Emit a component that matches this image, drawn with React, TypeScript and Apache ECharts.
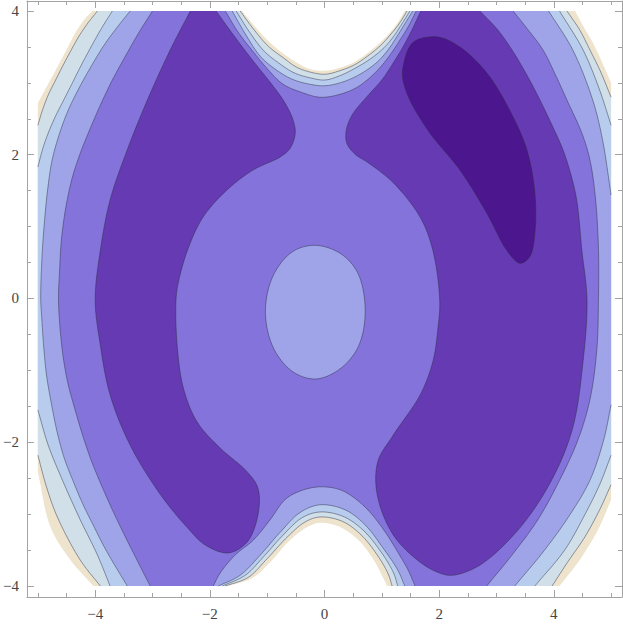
import React, { useEffect, useRef } from "react";
import * as echarts from "echarts";

type Pt = [number, number];

// ---- axes ----
const X_RANGE: [number, number] = [-5.19, 5.19];
const Y_RANGE: [number, number] = [-4.153, 4.139];
const X_TICKS_MINOR = [-5, -4.5, -4, -3.5, -3, -2.5, -2, -1.5, -1, -0.5, 0, 0.5, 1, 1.5, 2, 2.5, 3, 3.5, 4, 4.5, 5];
const X_TICKS_MAJOR = [-4, -2, 0, 2, 4];
const Y_TICKS_MINOR = [-4, -3.5, -3, -2.5, -2, -1.5, -1, -0.5, 0, 0.5, 1, 1.5, 2, 2.5, 3, 3.5, 4];
const Y_TICKS_MAJOR = [-4, -2, 0, 2, 4];

// ---- contour bands (outer → inner) ----
const BAND_COLORS = ["#EEE3CC", "#D1DFE8", "#B8CDEE", "#9FA4E8", "#8473DA", "#653AB2", "#4C168E"];

// edge of the plotted range (beige band)
const CONTOUR_1: Pt[] = [
  [-5, 2.72], [-4.83, 2.97], [-4.66, 3.22], [-4.5, 3.46], [-4.35, 3.69], [-4.19, 3.88], [-4.05, 4],
  [-1.44, 4], [-1.21, 3.78], [-0.95, 3.56], [-0.69, 3.39], [-0.48, 3.28], [-0.25, 3.19], [0.01, 3.17], [0.27, 3.21],
  [0.5, 3.28], [0.76, 3.42], [0.97, 3.56], [1.13, 3.69], [1.27, 3.83], [1.4, 4],
  [4.37, 4], [4.52, 3.78], [4.68, 3.56], [4.84, 3.29], [5, 3.0],
  [5, -2.8], [4.77, -3.22], [4.45, -3.64], [4.1, -4],
  [1.09, -4], [1.02, -3.88], [0.86, -3.64], [0.59, -3.36], [0.27, -3.18], [-0.08, -3.12], [-0.3, -3.18],
  [-0.6, -3.36], [-0.95, -3.67], [-1.26, -3.89], [-1.68, -4],
  [-4.03, -4], [-4.43, -3.64], [-4.78, -3.18], [-5, -2.41],
];

const CONTOUR_2: Pt[] = [
  [-5, 2.41], [-4.92, 2.62], [-4.82, 2.83], [-4.69, 3.04], [-4.57, 3.23], [-4.43, 3.44], [-4.29, 3.64], [-4.13, 3.83], [-3.96, 4],
  [-1.47, 4], [-1.24, 3.75], [-0.98, 3.51], [-0.72, 3.35], [-0.49, 3.22], [-0.25, 3.15], [0.01, 3.12], [0.27, 3.17],
  [0.52, 3.25], [0.78, 3.39], [0.99, 3.53], [1.16, 3.68], [1.3, 3.82], [1.44, 4],
  [4.23, 4], [4.45, 3.74], [4.63, 3.46], [4.82, 3.15], [5, 2.8],
  [5, -2.59], [4.8, -2.94], [4.54, -3.32], [4.24, -3.67], [3.97, -4],
  [1.18, -4], [1.11, -3.83], [0.93, -3.58], [0.64, -3.29], [0.31, -3.1], [-0.08, -3.04], [-0.34, -3.11],
  [-0.65, -3.32], [-1.0, -3.62], [-1.33, -3.88], [-1.73, -4],
  [-3.91, -4], [-4.26, -3.64], [-4.66, -3.04], [-4.85, -2.62], [-5, -2.18],
];

const CONTOUR_3: Pt[] = [
  [-5, 1.83], [-4.92, 2.07], [-4.82, 2.3], [-4.69, 2.54], [-4.55, 2.76], [-4.41, 2.98], [-4.26, 3.22], [-4.1, 3.46],
  [-3.94, 3.69], [-3.82, 3.85], [-3.7, 4],
  [-1.54, 4], [-1.31, 3.71], [-1.05, 3.44], [-0.77, 3.26], [-0.53, 3.14], [-0.25, 3.07], [0.01, 3.04], [0.27, 3.1],
  [0.55, 3.21], [0.83, 3.35], [1.04, 3.49], [1.2, 3.64], [1.35, 3.82], [1.49, 4],
  [4.1, 4], [4.51, 3.46], [4.8, 2.9], [5, 2.41],
  [5, -2.18], [4.8, -2.59], [4.54, -3.01], [4.19, -3.5], [3.67, -4],
  [1.28, -4], [1.2, -3.81], [0.99, -3.53], [0.67, -3.22], [0.32, -3.03], [-0.08, -2.97], [-0.39, -3.05],
  [-0.72, -3.29], [-1.07, -3.6], [-1.38, -3.85], [-1.78, -4],
  [-3.74, -4], [-3.96, -3.57], [-4.26, -3.08], [-4.57, -2.53], [-4.82, -2.04], [-5, -1.55],
];

const CONTOUR_4: Pt[] = [
  [-4.95, 0], [-4.93, 0.54], [-4.89, 1.02], [-4.83, 1.51], [-4.75, 1.93], [-4.62, 2.3], [-4.47, 2.62], [-4.28, 2.93],
  [-4.07, 3.23], [-3.84, 3.53], [-3.61, 3.78], [-3.39, 4],
  [-1.61, 4], [-1.38, 3.68], [-1.12, 3.37], [-0.84, 3.18], [-0.56, 3.05], [-0.25, 2.98], [0.01, 2.96], [0.31, 3.01],
  [0.62, 3.12], [0.92, 3.29], [1.11, 3.46], [1.26, 3.64], [1.4, 3.82], [1.54, 4],
  [3.91, 4], [4.33, 3.46], [4.68, 2.76], [4.85, 2.21], [5, 1.44],
  [5, -1.48], [4.87, -1.97], [4.63, -2.53], [4.28, -3.01], [3.84, -3.5], [3.32, -4],
  [1.4, -4], [1.28, -3.78], [1.02, -3.47], [0.71, -3.15], [0.36, -2.94], [-0.08, -2.87], [-0.43, -2.98],
  [-0.77, -3.25], [-1.12, -3.57], [-1.47, -3.85], [-1.85, -4],
  [-3.44, -4], [-3.63, -3.75], [-3.84, -3.46], [-4.03, -3.16], [-4.21, -2.87], [-4.38, -2.55], [-4.54, -2.22],
  [-4.66, -1.87], [-4.76, -1.48], [-4.85, -1.06], [-4.9, -0.65], [-4.93, -0.3],
];

const CONTOUR_5: Pt[] = [
  [-4.64, 0], [-4.62, 0.4], [-4.59, 0.81], [-4.52, 1.23], [-4.41, 1.65], [-4.27, 2.0], [-4.1, 2.34], [-3.91, 2.69],
  [-3.7, 3.04], [-3.46, 3.39], [-3.23, 3.71], [-3.0, 4],
  [-1.73, 4], [-1.51, 3.71], [-1.24, 3.43], [-0.98, 3.18], [-0.72, 2.98], [-0.37, 2.86], [-0.08, 2.8], [0.22, 2.83],
  [0.55, 2.93], [0.83, 3.1], [1.02, 3.26], [1.18, 3.43], [1.32, 3.6], [1.46, 3.78], [1.6, 4],
  [3.29, 4], [3.55, 3.74], [3.81, 3.46], [4.03, 3.11], [4.23, 2.76], [4.49, 2.3], [4.63, 1.93], [4.73, 1.37],
  [4.78, 0.67], [4.78, 0], [4.75, -0.72], [4.63, -1.41], [4.42, -1.97], [4.1, -2.53], [3.72, -3.08], [3.27, -3.57], [2.83, -4],
  [1.58, -4], [1.46, -3.78], [1.28, -3.53], [1.06, -3.25], [0.79, -2.97], [0.53, -2.78], [0.27, -2.66], [-0.08, -2.62],
  [-0.43, -2.68], [-0.69, -2.8], [-0.95, -3.08], [-1.24, -3.36], [-1.56, -3.57], [-1.82, -3.82], [-1.94, -4],
  [-3.04, -4], [-3.27, -3.64], [-3.49, -3.29], [-3.7, -2.94], [-3.89, -2.6], [-4.07, -2.25], [-4.22, -1.9],
  [-4.35, -1.55], [-4.47, -1.2], [-4.55, -0.86], [-4.61, -0.44],
];

const LEFT_CORE: Pt[] = [
  [-2.34, 4], [-1.89, 4], [-1.61, 3.69], [-1.26, 3.32], [-0.91, 2.97], [-0.72, 2.76], [-0.56, 2.51], [-0.51, 2.3],
  [-0.6, 2.09], [-0.77, 1.97], [-1.24, 1.79], [-1.7, 1.51], [-2.12, 1.13], [-2.39, 0.67], [-2.55, 0.22], [-2.59, -0.02],
  [-2.57, -0.65], [-2.46, -1.25], [-2.22, -1.72], [-1.82, -2.08], [-1.35, -2.41], [-1.16, -2.64], [-1.16, -3.01],
  [-1.35, -3.39], [-1.68, -3.54], [-2.08, -3.43], [-2.39, -3.19], [-2.86, -2.73], [-3.39, -2.04], [-3.74, -1.34],
  [-3.91, -0.65], [-4.0, -0.02], [-3.91, 0.67], [-3.74, 1.37], [-3.44, 2.07], [-3.09, 2.76], [-2.69, 3.46],
];

const RIGHT_CORE: Pt[] = [
  [1.68, 4], [2.71, 4], [3.02, 3.74], [3.27, 3.46], [3.53, 3.11], [3.76, 2.76], [3.97, 2.41], [4.16, 2.07], [4.3, 1.72],
  [4.4, 1.37], [4.49, 0.67], [4.58, -0.02], [4.51, -0.88], [4.33, -1.8], [3.98, -2.5], [3.41, -3.19], [2.71, -3.71],
  [2.24, -3.85], [2.01, -3.82], [1.67, -3.67], [1.2, -3.29], [0.92, -2.73], [0.93, -2.27], [1.2, -1.9], [1.67, -1.34],
  [1.89, -0.88], [1.98, -0.41], [2.01, -0.02], [1.89, 0.67], [1.67, 1.13], [1.2, 1.61], [0.76, 1.89], [0.53, 2.01],
  [0.39, 2.16], [0.38, 2.34], [0.48, 2.55], [0.72, 2.79], [1.0, 3.04], [1.21, 3.29], [1.39, 3.53], [1.54, 3.76],
];

const DEEPEST: Pt[] = [
  [1.37, 3.22], [1.54, 3.56], [1.96, 3.64], [2.36, 3.5], [2.83, 3.14], [3.23, 2.62], [3.53, 2.07], [3.67, 1.47],
  [3.67, 0.91], [3.58, 0.58], [3.41, 0.49], [3.18, 0.67], [2.83, 1.19], [2.36, 1.79], [1.84, 2.3], [1.49, 2.76], [1.37, 3.04],
];

const CENTER: Pt[] = [
  [-0.16, 0.74], [0.29, 0.62], [0.59, 0.34], [0.71, -0.19], [0.59, -0.67], [0.27, -0.98], [-0.15, -1.12],
  [-0.55, -1.02], [-0.89, -0.69], [-1.03, -0.19], [-0.9, 0.31], [-0.56, 0.65],
];

const LAYERS = [
  { points: CONTOUR_1, color: BAND_COLORS[0], line: false },
  { points: CONTOUR_2, color: BAND_COLORS[1], line: true },
  { points: CONTOUR_3, color: BAND_COLORS[2], line: true },
  { points: CONTOUR_4, color: BAND_COLORS[3], line: true },
  { points: CONTOUR_5, color: BAND_COLORS[4], line: true },
  { points: LEFT_CORE, color: BAND_COLORS[5], line: true },
  { points: RIGHT_CORE, color: BAND_COLORS[5], line: true },
  { points: DEEPEST, color: BAND_COLORS[6], line: true },
  { points: CENTER, color: BAND_COLORS[3], line: true },
];

const LINE_COLOR = "rgba(45,45,70,0.6)";
const FRAME_COLOR = "#a3a3a3";
const EPS = 1e-6;

function edgeTags(p: Pt): string {
  let s = "";
  if (p[0] <= -5 + EPS) s += "L";
  if (p[0] >= 5 - EPS) s += "R";
  if (p[1] >= 4 - EPS) s += "T";
  if (p[1] <= -4 + EPS) s += "B";
  return s;
}
function sharesEdge(a: Pt, b: Pt): boolean {
  const ea = edgeTags(a);
  const eb = edgeTags(b);
  for (const c of ea) if (eb.indexOf(c) >= 0) return true;
  return false;
}

// centripetal Catmull-Rom between p1 and p2 (rendering smoothness only)
function ccr(p0: number[], p1: number[], p2: number[], p3: number[], u: number): number[] {
  const d = (a: number[], b: number[]) => Math.max(Math.sqrt(Math.hypot(b[0] - a[0], b[1] - a[1])), 1e-4);
  const t0 = 0;
  const t1 = t0 + d(p0, p1);
  const t2 = t1 + d(p1, p2);
  const t3 = t2 + d(p2, p3);
  const t = t1 + (t2 - t1) * u;
  const lerp = (a: number[], b: number[], ta: number, tb: number) => {
    const w = (t - ta) / (tb - ta);
    return [a[0] * (1 - w) + b[0] * w, a[1] * (1 - w) + b[1] * w];
  };
  const A1 = lerp(p0, p1, t0, t1);
  const A2 = lerp(p1, p2, t1, t2);
  const A3 = lerp(p2, p3, t2, t3);
  const B1 = lerp(A1, A2, t0, t2);
  const B2 = lerp(A2, A3, t1, t3);
  return lerp(B1, B2, t1, t2);
}

const renderItem = (params: any, api: any) => {
  const layer = LAYERS[params.dataIndex];
  const data = layer.points;
  const n = data.length;
  const px: number[][] = data.map((p) => api.coord(p));
  const isEdge = data.map((p, i) => sharesEdge(p, data[(i + 1) % n]));
  const STEPS = 10;
  const segPts = (i: number): number[][] => {
    const j = (i + 1) % n;
    if (isEdge[i]) return [px[j]];
    const p1 = px[i], p2 = px[j];
    const p0 = isEdge[(i - 1 + n) % n] ? [2 * p1[0] - p2[0], 2 * p1[1] - p2[1]] : px[(i - 1 + n) % n];
    const p3 = isEdge[j] ? [2 * p2[0] - p1[0], 2 * p2[1] - p1[1]] : px[(j + 1) % n];
    const out: number[][] = [];
    for (let s = 1; s <= STEPS; s++) out.push(ccr(p0, p1, p2, p3, s / STEPS));
    return out;
  };
  const fill: number[][] = [px[0]];
  for (let i = 0; i < n; i++) fill.push(...segPts(i));
  fill.pop();
  const children: any[] = [
    { type: "polygon", shape: { points: fill }, style: { fill: layer.color, stroke: null } },
  ];
  if (layer.line) {
    const lineStyle = { stroke: LINE_COLOR, lineWidth: 0.8, fill: null };
    const start = isEdge.indexOf(true);
    if (start < 0) {
      children.push({ type: "polyline", shape: { points: [...fill, fill[0]] }, style: lineStyle });
    } else {
      let run: number[][] | null = null;
      for (let k = 1; k <= n; k++) {
        const i = (start + k) % n;
        if (isEdge[i]) {
          if (run) children.push({ type: "polyline", shape: { points: run }, style: lineStyle });
          run = null;
          continue;
        }
        if (!run) run = [px[i]];
        run.push(...segPts(i));
      }
      if (run) children.push({ type: "polyline", shape: { points: run }, style: lineStyle });
    }
  }
  return { type: "group", children };
};

const fmt = (v: number) => (v < 0 ? "\u2212" + Math.abs(v) : String(v));
const labelStyle = { fontFamily: "Liberation Serif, DejaVu Serif, serif", fontSize: 15, color: "#444" };
const tickLine = { color: FRAME_COLOR, width: 1 };

function axisPair(kind: "x" | "y", position: string, range: [number, number], minor: number[], major: number[], labels: boolean) {
  return [
    {
      type: "value",
      position,
      min: range[0],
      max: range[1],
      axisLine: { show: true, onZero: false, lineStyle: { color: FRAME_COLOR, width: 1 } },
      axisTick: { show: true, inside: true, length: 4, customValues: minor, lineStyle: tickLine },
      axisLabel: labels
        ? { show: true, customValues: major, formatter: fmt, margin: kind === "x" ? 9 : 8, ...labelStyle }
        : { show: false },
      splitLine: { show: false },
    },
    {
      type: "value",
      position,
      min: range[0],
      max: range[1],
      axisLine: { show: false, onZero: false },
      axisTick: { show: true, inside: true, length: 7, customValues: major, lineStyle: tickLine },
      axisLabel: { show: false },
      splitLine: { show: false },
    },
  ];
}

export default function App() {
  const ref = useRef<HTMLDivElement>(null);
  useEffect(() => {
    document.body.style.margin = "0";
    const chart = echarts.init(ref.current!, null, { renderer: "svg" });
    chart.setOption({
      animation: false,
      backgroundColor: "#ffffff",
      grid: { left: 26, right: 1, top: 1, bottom: 28, containLabel: false },
      xAxis: [
        ...axisPair("x", "bottom", X_RANGE, X_TICKS_MINOR, X_TICKS_MAJOR, true),
        ...axisPair("x", "top", X_RANGE, X_TICKS_MINOR, X_TICKS_MAJOR, false),
      ],
      yAxis: [
        ...axisPair("y", "left", Y_RANGE, Y_TICKS_MINOR, Y_TICKS_MAJOR, true),
        ...axisPair("y", "right", Y_RANGE, Y_TICKS_MINOR, Y_TICKS_MAJOR, false),
      ],
      series: [
        {
          type: "custom",
          coordinateSystem: "cartesian2d",
          xAxisIndex: 0,
          yAxisIndex: 0,
          renderItem,
          data: LAYERS.map(() => [0, 0]),
          clip: false,
          silent: true,
        },
      ],
    });
    return () => chart.dispose();
  }, []);
  return <div ref={ref} style={{ width: 623, height: 625, background: "#fff" }} />;
}
